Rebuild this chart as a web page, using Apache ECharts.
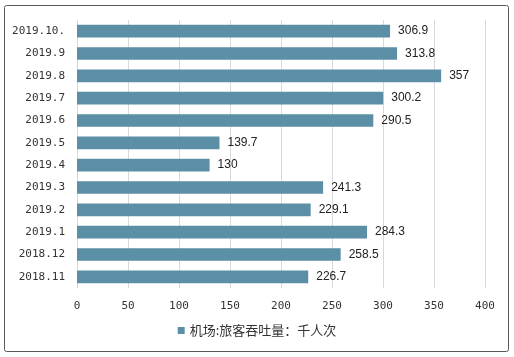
<!DOCTYPE html>
<html><head><meta charset="utf-8">
<script src="https://cdn.jsdelivr.net/npm/echarts@6/dist/echarts.min.js"></script>
<style>html,body{margin:0;padding:0;background:#fff}#c{width:514px;height:357px}</style>
</head><body><div id="c"></div>
<script>
const categories = ['2018.11','2018.12','2019.1','2019.2','2019.3','2019.4','2019.5','2019.6','2019.7','2019.8','2019.9','2019.10.'];
const values = [226.7,258.5,284.3,229.1,241.3,130,139.7,290.5,300.2,357,313.8,306.9];
const seriesName = '机场:旅客吞吐量：千人次';
const chart = echarts.init(document.getElementById('c'));
chart.setOption({
  animation:false,
  graphic:[{type:'rect',shape:{x:4.5,y:5.5,width:504,height:346,r:2},style:{fill:'none',stroke:'#595959',lineWidth:1}}],
  grid:{left:77,right:29,top:20,bottom:69},
  legend:{bottom:15,left:'center',itemWidth:7,itemHeight:7,itemGap:3,icon:'rect',
    textStyle:{fontFamily:'Noto Sans CJK SC',fontSize:13,color:'#333'},data:[seriesName]},
  xAxis:{type:'value',min:0,max:400,interval:50,
    axisLine:{show:false},axisTick:{show:false},
    axisLabel:{color:'#333',fontSize:11,margin:13,fontFamily:'DejaVu Sans Mono'},
    splitLine:{lineStyle:{color:'#d9d9d9'}}},
  yAxis:{type:'category',data:categories,
    axisLine:{show:false},axisTick:{show:false},
    axisLabel:{color:'#333',fontSize:11,margin:12,fontFamily:'DejaVu Sans Mono'}},
  series:[{name:seriesName,type:'bar',data:values,barWidth:'57%',
    itemStyle:{color:'#5b8fa6'},
    label:{show:true,position:'right',distance:8,color:'#222',fontSize:12,fontFamily:'Liberation Sans'}}]
});
</script></body></html>
